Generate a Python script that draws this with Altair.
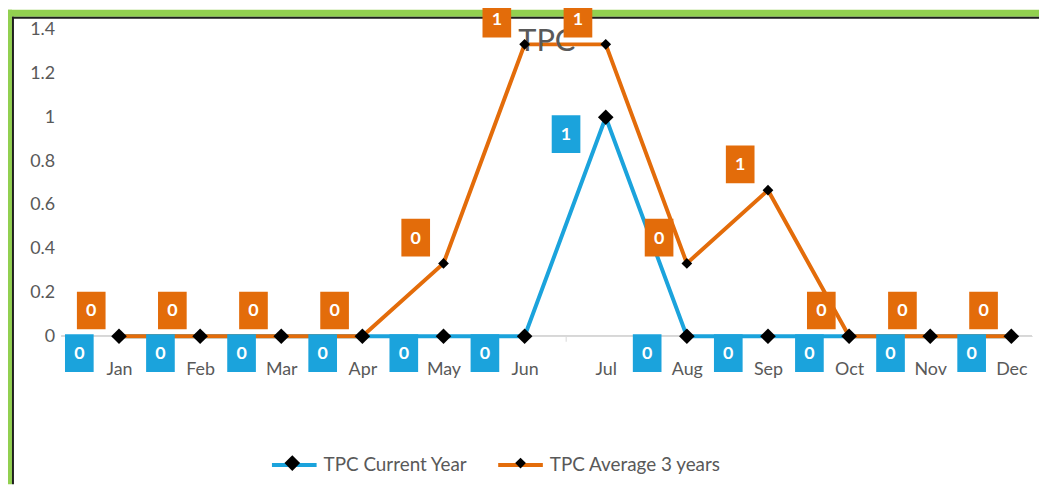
import altair as alt
import pandas as pd

# ---- data -------------------------------------------------------------
months = ["Jan", "Feb", "Mar", "Apr", "May", "Jun",
          "Jul", "Aug", "Sep", "Oct", "Nov", "Dec"]
current_year = [0, 0, 0, 0, 0, 0, 1, 0, 0, 0, 0, 0]
average_3_years = [0, 0, 0, 0, 0.333, 1.333, 1.333, 0.333, 0.667, 0, 0, 0]
series_names = ["TPC Current Year", "TPC Average 3 years"]
y_ticks = [0, 0.2, 0.4, 0.6, 0.8, 1, 1.2, 1.4]
chart_title = "TPC"

rows = []
for m, v in zip(months, current_year):
    rows.append({"month": m, "series": series_names[0], "series_sym": series_names[0], "value": v})
for m, v in zip(months, average_3_years):
    rows.append({"month": m, "series": series_names[1], "series_sym": series_names[1], "value": v})
df = pd.DataFrame(rows)
one = pd.DataFrame({"a": [1]})

# ---- styles -----------------------------------------------------------
BLUE = "#1BA3DC"
ORANGE = "#E36C0A"
GRAY = "#595959"
FONT = "Lato"
L, T, PW, PH, R = 54, 20, 978, 309, 7
B = 478 - T - PH

x_enc = alt.X(
    "month:N", sort=months,
    scale=alt.Scale(type="band", domain=months, range=[17, 998],
                    paddingInner=0, paddingOuter=0),
    axis=alt.Axis(title=None, labelAngle=0, labelFontSize=18, labelColor=GRAY,
                  labelFont=FONT, domain=False, ticks=True, tickBand="extent",
                  tickColor="#D9D9D9", tickSize=5, labelPadding=19, grid=False),
)
y_enc = alt.Y(
    "value:Q",
    scale=alt.Scale(domain=[0, 1.4], nice=False, zero=True),
    axis=alt.Axis(title=None, values=y_ticks, format="~g", labelFontSize=18,
                  labelColor=GRAY, labelFont=FONT, domain=False, ticks=False,
                  grid=False, labelPadding=7),
)

base = alt.Chart(df)
is_blue = alt.datum.series == series_names[0]
is_orange = alt.datum.series == series_names[1]

LEG_X, LEG_Y = 210, 414
common_leg = dict(orient="none", legendX=LEG_X, legendY=LEG_Y, direction="horizontal",
                  title=None, labelFontSize=19, labelColor=GRAY, labelFont=FONT,
                  symbolSize=2025, padding=0, labelOffset=5, labelLimit=400)

line_legend = alt.Legend(symbolType="stroke", symbolStrokeWidth=4,
                         columnPadding=22, **common_leg)
# diamonds drawn on top of the line symbols (labels come from the line legend)
shape_legend = alt.Legend(symbolFillColor="black", symbolStrokeColor="black",
                          symbolStrokeWidth=0, labelExpr="''",
                          columnPadding=180, **common_leg)

stroke_scale = alt.Scale(domain=series_names, range=[BLUE, ORANGE])
blue_diamond = "M0,-0.35L0.35,0L0,0.35L-0.35,0Z"
orange_diamond = "M0,-0.24L0.24,0L0,0.24L-0.24,0Z"

# ---- decorative frame ---------------------------------------------------
frame = alt.Chart(one)
green_top = frame.mark_rect(color="#92D050").encode(
    x=alt.value(-L), x2=alt.value(PW + R), y=alt.value(-T), y2=alt.value(-T + 7))
green_left = frame.mark_rect(color="#92D050").encode(
    x=alt.value(-L), x2=alt.value(-L + 4), y=alt.value(-T), y2=alt.value(PH + B))
black_top = frame.mark_rect(color="#1E1E1E").encode(
    x=alt.value(-L + 4), x2=alt.value(PW + R), y=alt.value(-T + 7), y2=alt.value(-T + 9))
black_left = frame.mark_rect(color="#1E1E1E").encode(
    x=alt.value(-L + 4), x2=alt.value(-L + 6), y=alt.value(-T + 7), y2=alt.value(PH + B))

title_text = frame.mark_text(text=chart_title, fontSize=31, color=GRAY, font=FONT,
                             align="center", baseline="middle").encode(
    x=alt.value(489), y=alt.value(12))

baseline = base.mark_rule(color="#D9D9D9", strokeWidth=1).encode(y=alt.datum(0))

line_blue = base.transform_filter(is_blue).mark_line(strokeWidth=4).encode(
    x=x_enc, y=y_enc,
    stroke=alt.Stroke("series:N", scale=stroke_scale, legend=line_legend))
line_orange = base.transform_filter(is_orange).mark_line(strokeWidth=4).encode(
    x=x_enc, y=y_enc,
    stroke=alt.Stroke("series:N", scale=stroke_scale, legend=line_legend))

points = base.mark_point(filled=True, color="black", opacity=1, size=2025).encode(
    x=x_enc, y=y_enc,
    shape=alt.Shape("series_sym:N", sort=series_names,
                    scale=alt.Scale(range=[blue_diamond, orange_diamond]),
                    legend=shape_legend))

box_path = "M-0.76,-1L0.76,-1L0.76,1L-0.76,1Z"


def labels(flt, color, dx, dy):
    box = base.transform_filter(flt).mark_point(
        shape=box_path, filled=True, size=1444, opacity=1, color=color,
        xOffset=dx, yOffset=dy).encode(x=x_enc, y=y_enc)
    txt = base.transform_filter(flt).mark_text(
        color="white", fontSize=18, fontWeight="bold", font=FONT,
        align="center", baseline="middle", xOffset=dx, yOffset=dy + 1).encode(
        x=x_enc, y=y_enc, text=alt.Text("value:Q", format=".0f"))
    return [box, txt]


layers = [green_top, green_left, black_top, black_left, baseline,
          line_blue, line_orange, title_text, points]
layers += labels(is_blue, BLUE, -40, 17)
layers += labels(is_orange, ORANGE, -28, -26)

chart = alt.layer(*layers).properties(
    width=PW, height=PH,
    padding={"left": L, "top": T, "right": R, "bottom": B},
    autosize=alt.AutoSizeParams(type="none"),
).configure_view(stroke=None)

chart.save("out.html", embed_options={"renderer": "svg", "actions": False})
